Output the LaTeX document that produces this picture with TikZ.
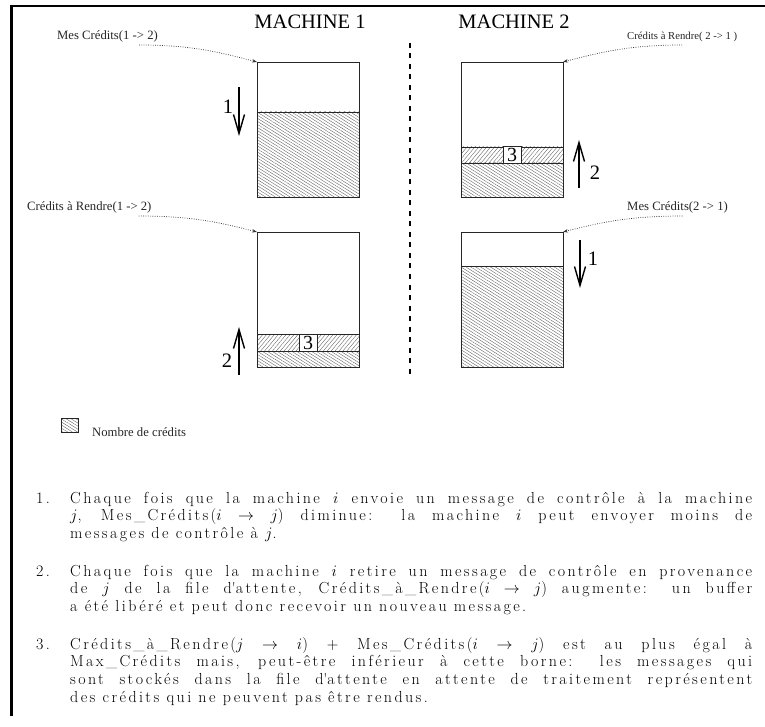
\documentclass[tikz,border=0pt]{standalone}
\usepackage{fix-cm}
\usepackage{fontspec}
\usepackage{tikz}
\usetikzlibrary{arrows.meta,patterns.meta,positioning}
\newfontfamily\figfont{Liberation Serif}
\newfontfamily\bodyfam{Latin Modern Roman}[LetterSpace=15]
\newcommand\bodyfont{\bodyfam\fontsize{16}{17.8}\selectfont}

\begin{document}
\begin{tikzpicture}[x=1pt,y=-1pt,
  box/.style={minimum width=102pt,minimum height=135pt,inner sep=0pt,outer sep=0pt},
  edge/.style={draw=black!85,line width=0.8pt},
  hw/.style={pattern={Lines[angle=-32,distance=2.6pt,line width=0.35pt]},pattern color=black!65},
  hs/.style={pattern={Lines[angle=50,distance=3pt,line width=0.35pt]},pattern color=black!65},
  cell/.style={draw=black!85,fill=white,line width=0.8pt,minimum width=18pt,minimum height=17pt,
               inner sep=0pt,font=\figfont\fontsize{20}{20}\selectfont},
  big/.style={inner sep=0pt,font=\figfont\fontsize{20.5}{22}\selectfont},
  lab/.style={inner sep=0pt,anchor=base west,text=black!85,font=\figfont\fontsize{12.7}{14}\selectfont},
  ptr/.style={draw=black!80,line width=0.7pt,dash pattern=on 0.8pt off 1.5pt,-{Stealth[length=5pt,width=3.5pt]}},
  a/.style={line width=1.4pt,-{Straight Barb[length=19pt,width=11pt]}},
  txt/.style={inner sep=0pt,anchor=base west,text width=682pt,align=justify,font=\bodyfont},
  num/.style={inner sep=0pt,anchor=base west,font=\bodyfont}]

  \useasboundingbox (0,0) rectangle (765,727);
  \draw[line width=2.6pt] (11.3,716) -- (11.3,6) -- (765,6);

  \node[big] (m1) at (310,21.5) {MACHINE 1};
  \node[big] (m2) at (514,21.5) {MACHINE 2};
  \draw[line width=1.5pt,dash pattern=on 5pt off 5.5pt] (410,43) -- (410,377);

  \foreach \n/\x/\y in {b1/308/129.5, b2/308/299.5, b3/512/129.5, b4/512/299.5}
    \node[box] (\n) at (\x,\y) {};

  % machine 1
  \fill[hw] (b1.south west) rectangle (b1.east |- 0,112);
  \draw[edge] (b1.west |- 0,112) -- (b1.east |- 0,112);
  \fill[hw] (b2.south west) rectangle (b2.east |- 0,351);
  \fill[hs] (b2.west |- 0,351) rectangle (b2.east |- 0,334);
  \draw[edge] (b2.west |- 0,334) -- (b2.east |- 0,334)
              (b2.west |- 0,351) -- (b2.east |- 0,351);
  \node[cell] (c2) at (308,342.5) {3};

  % machine 2
  \fill[hw] (b3.south west) rectangle (b3.east |- 0,163);
  \fill[hs] (b3.west |- 0,163) rectangle (b3.east |- 0,147);
  \draw[edge] (b3.west |- 0,147) -- (b3.east |- 0,147)
              (b3.west |- 0,163) -- (b3.east |- 0,163);
  \node[cell] (c3) at (512,155) {3};
  \fill[hw] (b4.south west) rectangle (b4.east |- 0,266);
  \draw[edge] (b4.west |- 0,266) -- (b4.east |- 0,266);

  \foreach \n in {b1,b2,b3,b4}
    \draw[edge] (\n.south west) rectangle (\n.north east);

  \draw[a] (239,87) -- (239,136);
  \node[big] (k1) at (228,107) {1};
  \draw[a] (239,375) -- (239,327);
  \node[big] (k2) at (227,361) {2};
  \draw[a] (579,188) -- (579,140);
  \node[big] (k3) at (595,173) {2};
  \draw[a] (580,240) -- (580,288);
  \node[big] (k4) at (593,259) {1};

  \node[lab] (l1) at (57,39.5) {Mes Crédits(1 -> 2)};
  \node[lab] (l2) at (27,210.5) {Crédits à Rendre(1 -> 2)};
  \node[lab,font=\figfont\fontsize{10.7}{12}\selectfont] (l3) at (627,39.5) {Crédits à Rendre( 2 -> 1 )};
  \node[lab] (l4) at (627,210.5) {Mes Crédits(2 -> 1)};

  \draw[ptr] ([xshift=-19pt,yshift=-5.5pt]l1.base east) .. controls +(55,0) and +(-35,-9) .. (b1.north west);
  \draw[ptr] ([xshift=-13pt,yshift=-5.5pt]l2.base east) .. controls +(55,0) and +(-35,-9) .. (b2.north west);
  \draw[ptr] ([yshift=-5.5pt]l3.base) .. controls +(-55,0) and +(35,-9) .. (b3.north east);
  \draw[ptr] ([xshift=5pt,yshift=-5.5pt]l4.base) .. controls +(-55,0) and +(35,-9) .. (b4.north east);

  \draw[edge,hw] (61,418) rectangle (78,432);
  \node[lab] (key) at (92,436) {Nombre de crédits};

  \node[num] (n1) at (36,503) {1.};
  \node[txt] (t1) at (70,503) {Chaque fois que la machine $i$ envoie un message de contrôle à la machine\linebreak
    $j$, Mes\_Crédits($i \rightarrow j$) diminue: la machine $i$ peut envoyer moins de\linebreak
    messages de contrôle à $j$.};
  \node[num] (n2) at (36,576) {2.};
  \node[txt] (t2) at (70,576) {Chaque fois que la machine $i$ retire un message de contrôle en provenance\linebreak
    de $j$ de la file d\textquotesingle attente, Crédits\_à\_Rendre($i \rightarrow j$) augmente: un buffer\linebreak
    a été libéré et peut donc recevoir un nouveau message.};
  \node[num] (n3) at (36,649) {3.};
  \node[txt] (t3) at (70,649) {Crédits\_à\_Rendre($j \rightarrow i$) + Mes\_Crédits($i \rightarrow j$) est au plus égal à\linebreak
    Max\_Crédits mais, peut-être inférieur à cette borne: les messages qui\linebreak
    sont stockés dans la file d\textquotesingle attente en attente de traitement représentent\linebreak
    des crédits qui ne peuvent pas être rendus.};
\end{tikzpicture}
\end{document}
